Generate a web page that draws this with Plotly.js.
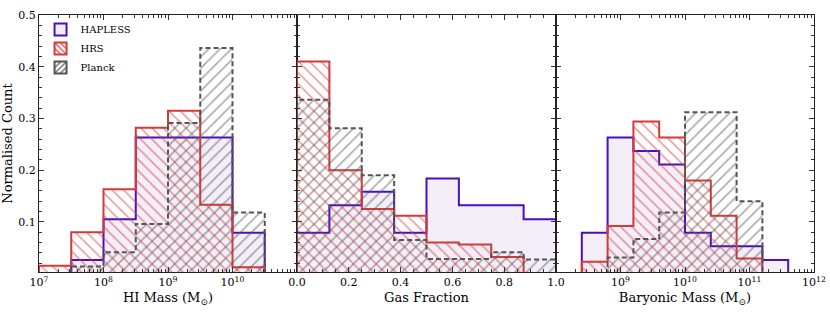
<!DOCTYPE html>
<html>
<head>
<meta charset="utf-8">
<script src="https://cdn.plot.ly/plotly-3.0.1.min.js"></script>
<style>html,body{margin:0;padding:0;background:#fff;}#chart{width:830px;height:312px;}</style>
</head>
<body>
<div id="chart"></div>
<script>
// ---- Data ----
// Panel 1: HI mass, bin edges in log10(M_sun)
const hiEdges = [7.0, 7.5, 8.0, 8.5, 9.0, 9.5, 10.0, 10.5];
const hiHapless = [0.0, 0.0263, 0.105, 0.263, 0.263, 0.263, 0.079];
const hiHRS = [0.015, 0.080, 0.163, 0.282, 0.315, 0.133, 0.012];
const hiPlanck = [0.0, 0.0137, 0.041, 0.096, 0.291, 0.436, 0.118];

// Panel 2: gas fraction
const gfEdges = [0.0, 0.125, 0.25, 0.375, 0.5, 0.625, 0.75, 0.875, 1.0];
const gfHapless = [0.079, 0.132, 0.158, 0.079, 0.184, 0.132, 0.132, 0.105];
const gfHRS = [0.410, 0.200, 0.125, 0.112, 0.060, 0.056, 0.032, 0.0];
const gfPlanck = [0.336, 0.281, 0.190, 0.065, 0.028, 0.028, 0.041, 0.027];

// Panel 3: baryonic mass, bin edges in log10(M_sun)
const bmEdges = [8.4, 8.8, 9.2, 9.6, 10.0, 10.4, 10.8, 11.2, 11.6];
const bmHapless = [0.079, 0.263, 0.237, 0.211, 0.079, 0.053, 0.053, 0.026];
const bmHRS = [0.023, 0.092, 0.294, 0.263, 0.180, 0.112, 0.029, 0.0];
const bmPlanck = [0.0, 0.031, 0.067, 0.118, 0.312, 0.312, 0.140, 0.0];

const seriesNames = ["HAPLESS", "HRS", "Planck"];
const logTickVals = [7, 8, 9, 10, 11, 12];
const logTickText = ["10<sup>7</sup>", "10<sup>8</sup>", "10<sup>9</sup>", "10<sup>10</sup>", "10<sup>11</sup>", "10<sup>12</sup>"];
const gfTickVals = [0.0, 0.2, 0.4, 0.6, 0.8, 1.0];
const gfTickText = ["0.0", "0.2", "0.4", "0.6", "0.8", "1.0"];
const yTickVals = [0.1, 0.2, 0.3, 0.4, 0.5];
const yTickText = ["0.1", "0.2", "0.3", "0.4", "0.5"];

// ---- Helpers ----
function stepXY(edges, vals, isLog) {
  const conv = isLog ? (e => Math.pow(10, e)) : (e => e);
  const x = [conv(edges[0])], y = [0];
  for (let i = 0; i < vals.length; i++) { x.push(conv(edges[i])); y.push(vals[i]); }
  x.push(conv(edges[edges.length - 1])); y.push(vals[vals.length - 1]);
  x.push(conv(edges[edges.length - 1])); y.push(0);
  return {x, y};
}

const RED = "#d33a3a", BLUE = "#4a0fbf", GREY = "#555555", LAV = "#f3eef8";
const styles = {
  HAPLESS: {line: {color: BLUE, width: 2, shape: "hv"}, fillcolor: LAV, pattern: null},
  HRS: {line: {color: RED, width: 2, shape: "hv"}, fillcolor: "rgba(0,0,0,0)",
        pattern: {shape: "\\", fgcolor: RED, bgcolor: "rgba(0,0,0,0)", size: 8, solidity: 0.2, fillmode: "overlay"}},
  Planck: {line: {color: GREY, width: 2, shape: "hv", dash: "5px,3px"}, fillcolor: "rgba(0,0,0,0)",
        pattern: {shape: "/", fgcolor: GREY, bgcolor: "rgba(0,0,0,0)", size: 8, solidity: 0.2, fillmode: "overlay"}}
};

const traces = [];
function addPanel(edges, sets, isLog, xa, ya) {
  sets.forEach((vals, k) => {
    const name = seriesNames[k];
    const st = styles[name];
    const xy = stepXY(edges, vals, isLog);
    const t = {
      type: "scatter", mode: "lines", x: xy.x, y: xy.y, name: name,
      xaxis: xa, yaxis: ya, fill: "tozeroy", fillcolor: st.fillcolor,
      line: st.line, showlegend: false, hoverinfo: "skip"
    };
    if (st.pattern) t.fillpattern = st.pattern;
    traces.push(t);
  });
}
addPanel(hiEdges, [hiHapless, hiHRS, hiPlanck], true, "x", "y");
addPanel(gfEdges, [gfHapless, gfHRS, gfPlanck], false, "x2", "y2");
addPanel(bmEdges, [bmHapless, bmHRS, bmPlanck], true, "x3", "y3");

// Legend entries as patch-style (bar) items, carrying no data
seriesNames.forEach(name => {
  const st = styles[name];
  const marker = {color: name === "HAPLESS" ? LAV : "rgba(0,0,0,0)", line: {color: st.line.color, width: 2}};
  if (st.pattern) marker.pattern = {shape: st.pattern.shape, fgcolor: st.pattern.fgcolor, bgcolor: "rgba(0,0,0,0)", size: 5, solidity: 0.3};
  traces.push({type: "bar", x: [null], y: [null], name: name, xaxis: "x2", yaxis: "y2",
               marker: marker, showlegend: true, hoverinfo: "skip"});
});

function logMinor(d0, d1) {
  const v = [];
  for (let d = d0; d < d1; d++) for (let m = 2; m <= 9; m++) v.push(m * Math.pow(10, d));
  return v;
}

const SERIF = "DejaVu Serif, serif";
const font = {family: SERIF, size: 11, color: "#000"};
const axBase = {
  showgrid: false, zeroline: false, showline: true, linecolor: "#222", linewidth: 1,
  mirror: "allticks", ticks: "inside", ticklen: 5, tickwidth: 1, tickcolor: "#333",
  tickfont: font, tickmode: "array", fixedrange: true
};
const minorLin = (d) => ({ticks: "inside", ticklen: 3, tickcolor: "#333", dtick: d});
const dom1 = [0, 0.3329], dom2 = [0.3329, 0.6671], dom3 = [0.6671, 1];
const titleFont = {family: SERIF, size: 13, color: "#000"};

const layout = {
  width: 830, height: 312,
  margin: {l: 39, r: 16, t: 15, b: 40},
  paper_bgcolor: "#fff", plot_bgcolor: "#fff",
  font: font,
  showlegend: true,
  legend: {x: 0.002, y: 1.0, xanchor: "left", yanchor: "top", bgcolor: "rgba(255,255,255,0)",
           font: {family: SERIF, size: 10, color: "#000"}, tracegroupgap: 0, itemwidth: 30},
  xaxis: Object.assign({}, axBase, {type: "log", domain: dom1, range: [7, 11], anchor: "y",
      tickvals: logTickVals.slice(0, 4).map(e => Math.pow(10, e)), ticktext: logTickText.slice(0, 4),
      minor: {ticks: "inside", ticklen: 3, tickcolor: "#333", tickmode: "array", tickvals: logMinor(7, 11)},
      title: {text: "HI Mass (M<sub>⊙</sub>)", font: titleFont, standoff: 4}}),
  xaxis2: Object.assign({}, axBase, {domain: dom2, range: [0, 1], anchor: "y2",
      tickvals: gfTickVals, ticktext: gfTickText, minor: minorLin(0.05),
      title: {text: "Gas Fraction", font: titleFont, standoff: 4}}),
  xaxis3: Object.assign({}, axBase, {type: "log", domain: dom3, range: [8, 12], anchor: "y3",
      tickvals: logTickVals.slice(2).map(e => Math.pow(10, e)), ticktext: logTickText.slice(2),
      minor: {ticks: "inside", ticklen: 3, tickcolor: "#333", tickmode: "array", tickvals: logMinor(8, 12)},
      title: {text: "Baryonic Mass (M<sub>⊙</sub>)", font: titleFont, standoff: 4}}),
  yaxis: Object.assign({}, axBase, {range: [0.003, 0.5], anchor: "x", tickvals: yTickVals, ticktext: yTickText,
      minor: minorLin(0.02),
      title: {text: "Normalised Count", font: titleFont, standoff: 8}}),
  yaxis2: Object.assign({}, axBase, {range: [0.003, 0.5], anchor: "x2", showticklabels: false,
      tickvals: yTickVals, ticktext: yTickText, minor: minorLin(0.02)}),
  yaxis3: Object.assign({}, axBase, {range: [0.003, 0.5], anchor: "x3", showticklabels: false,
      tickvals: yTickVals, ticktext: yTickText, minor: minorLin(0.02)})
};

Plotly.newPlot("chart", traces, layout, {displayModeBar: false, staticPlot: true});
</script>
</body>
</html>
